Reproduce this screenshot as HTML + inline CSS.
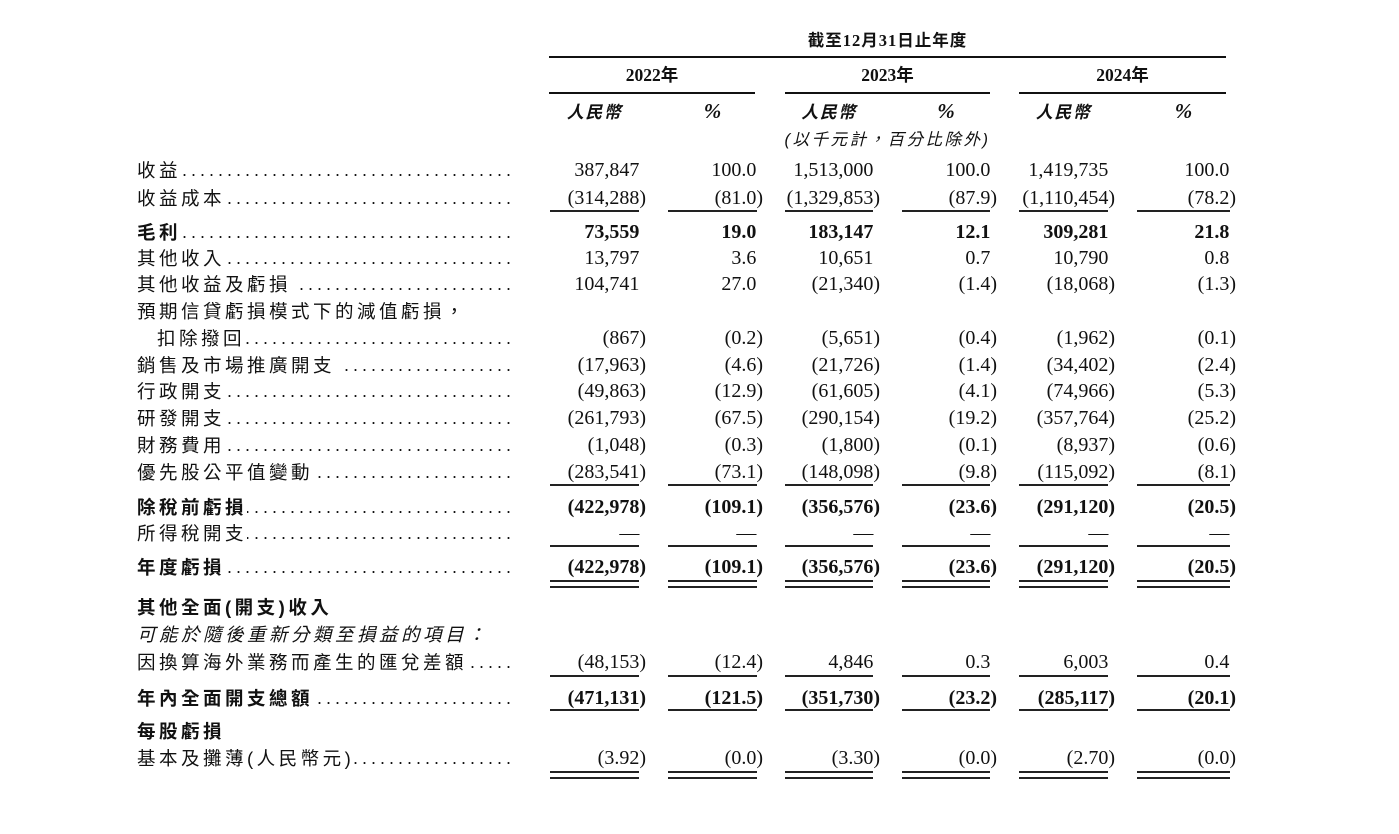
<!DOCTYPE html>
<html>
<head>
<meta charset="utf-8">
<style>
html,body{margin:0;padding:0;background:#fff;}
body{width:1399px;height:834px;position:relative;overflow:hidden;color:#111;}
.r{position:absolute;left:0;width:1399px;height:27px;line-height:27px;}
.n{position:absolute;top:0;font-family:"Liberation Serif","Noto Serif CJK SC",serif;font-size:20px;white-space:nowrap;}
.bd .n{font-weight:bold;}
.a{right:753px}.b{right:636px}.c{right:519px}.d{right:402px}.e{right:284px}.f{right:163px}
.p::after{content:")";visibility:hidden;}
.l{position:absolute;left:137px;top:0;width:378px;display:flex;font-family:"Liberation Sans","Noto Sans CJK TC",sans-serif;font-size:18.5px;letter-spacing:3.5px;color:#111;}
.l .t{flex:none;white-space:nowrap;}
.l .g{margin-right:4px;}
.l .dt{flex:1;overflow:hidden;white-space:nowrap;direction:rtl;letter-spacing:4px;font-size:18px;font-family:"Liberation Sans",sans-serif;}
.bd .l .t{font-weight:bold;}
.it .l .t{font-style:italic;}
.hl{position:absolute;background:#111;}
.ln{position:absolute;height:1.5px;background:#222;}
.h{position:absolute;text-align:center;white-space:nowrap;height:27px;line-height:27px;}
.hb{font-family:"Liberation Serif","Noto Sans CJK TC",serif;font-weight:bold;}
.pc{font-family:"Liberation Serif",serif;font-weight:bold;font-style:italic;font-size:21px;}
</style>
</head>
<body>

<!-- header -->
<div class="h hb" style="left:549px;width:677px;top:27px;font-size:16.5px;letter-spacing:1px;">截至12月31日止年度</div>
<div class="hl" style="left:549px;width:677px;top:56px;height:2px;"></div>

<div class="h hb" style="left:549px;width:206px;top:62px;font-size:17.5px;">2022年</div>
<div class="h hb" style="left:785px;width:205px;top:62px;font-size:17.5px;">2023年</div>
<div class="h hb" style="left:1019px;width:207px;top:62px;font-size:17.5px;">2024年</div>
<div class="hl" style="left:549px;width:206px;top:92px;height:2px;"></div>
<div class="hl" style="left:785px;width:205px;top:92px;height:2px;"></div>
<div class="hl" style="left:1019px;width:207px;top:92px;height:2px;"></div>

<div class="h hb" style="left:550px;width:89px;top:99px;font-size:17px;letter-spacing:1.5px;font-style:italic;">人民幣</div>
<div class="h pc" style="left:668px;width:89px;top:98px;">%</div>
<div class="h hb" style="left:785px;width:88px;top:99px;font-size:17px;letter-spacing:1.5px;font-style:italic;">人民幣</div>
<div class="h pc" style="left:902px;width:88px;top:98px;">%</div>
<div class="h hb" style="left:1019px;width:89px;top:99px;font-size:17px;letter-spacing:1.5px;font-style:italic;">人民幣</div>
<div class="h pc" style="left:1137px;width:93px;top:98px;">%</div>

<div class="h" style="left:549px;width:677px;top:127px;font-family:'Liberation Sans','Noto Sans CJK TC',sans-serif;font-size:16.5px;letter-spacing:2.5px;font-style:italic;">(以千元計，百分比除外)</div>

<!-- rows -->
<div class="r" style="top:156.5px"><div class="l"><span class="t">收益</span><span class="dt">..................................................</span></div>
<span class="n a p">387,847</span><span class="n b p">100.0</span><span class="n c p">1,513,000</span><span class="n d p">100.0</span><span class="n e p">1,419,735</span><span class="n f p">100.0</span></div>

<div class="r" style="top:184.5px"><div class="l"><span class="t">收益成本</span><span class="dt">..................................................</span></div>
<span class="n a">(314,288)</span><span class="n b">(81.0)</span><span class="n c">(1,329,853)</span><span class="n d">(87.9)</span><span class="n e">(1,110,454)</span><span class="n f">(78.2)</span></div>

<div class="ln" style="left:550px;width:89px;top:210px"></div>
<div class="ln" style="left:668px;width:89px;top:210px"></div>
<div class="ln" style="left:785px;width:88px;top:210px"></div>
<div class="ln" style="left:902px;width:88px;top:210px"></div>
<div class="ln" style="left:1019px;width:89px;top:210px"></div>
<div class="ln" style="left:1137px;width:93px;top:210px"></div>

<div class="r bd" style="top:218.5px"><div class="l"><span class="t">毛利</span><span class="dt">..................................................</span></div>
<span class="n a p">73,559</span><span class="n b p">19.0</span><span class="n c p">183,147</span><span class="n d p">12.1</span><span class="n e p">309,281</span><span class="n f p">21.8</span></div>

<div class="r" style="top:244.5px"><div class="l"><span class="t">其他收入</span><span class="dt">..................................................</span></div>
<span class="n a p">13,797</span><span class="n b p">3.6</span><span class="n c p">10,651</span><span class="n d p">0.7</span><span class="n e p">10,790</span><span class="n f p">0.8</span></div>

<div class="r" style="top:270.5px"><div class="l"><span class="t g">其他收益及虧損</span><span class="dt">..................................................</span></div>
<span class="n a p">104,741</span><span class="n b p">27.0</span><span class="n c">(21,340)</span><span class="n d">(1.4)</span><span class="n e">(18,068)</span><span class="n f">(1.3)</span></div>

<div class="r" style="top:297.5px"><div class="l"><span class="t">預期信貸虧損模式下的減值虧損，</span></div></div>

<div class="r" style="top:324.5px"><div class="l" style="left:157px;width:358px;"><span class="t">扣除撥回</span><span class="dt">..................................................</span></div>
<span class="n a">(867)</span><span class="n b">(0.2)</span><span class="n c">(5,651)</span><span class="n d">(0.4)</span><span class="n e">(1,962)</span><span class="n f">(0.1)</span></div>

<div class="r" style="top:351.5px"><div class="l"><span class="t g">銷售及市場推廣開支</span><span class="dt">..................................................</span></div>
<span class="n a">(17,963)</span><span class="n b">(4.6)</span><span class="n c">(21,726)</span><span class="n d">(1.4)</span><span class="n e">(34,402)</span><span class="n f">(2.4)</span></div>

<div class="r" style="top:377.5px"><div class="l"><span class="t">行政開支</span><span class="dt">..................................................</span></div>
<span class="n a">(49,863)</span><span class="n b">(12.9)</span><span class="n c">(61,605)</span><span class="n d">(4.1)</span><span class="n e">(74,966)</span><span class="n f">(5.3)</span></div>

<div class="r" style="top:404.5px"><div class="l"><span class="t">研發開支</span><span class="dt">..................................................</span></div>
<span class="n a">(261,793)</span><span class="n b">(67.5)</span><span class="n c">(290,154)</span><span class="n d">(19.2)</span><span class="n e">(357,764)</span><span class="n f">(25.2)</span></div>

<div class="r" style="top:431.5px"><div class="l"><span class="t">財務費用</span><span class="dt">..................................................</span></div>
<span class="n a">(1,048)</span><span class="n b">(0.3)</span><span class="n c">(1,800)</span><span class="n d">(0.1)</span><span class="n e">(8,937)</span><span class="n f">(0.6)</span></div>

<div class="r" style="top:458.5px"><div class="l"><span class="t g">優先股公平值變動</span><span class="dt">..................................................</span></div>
<span class="n a">(283,541)</span><span class="n b">(73.1)</span><span class="n c">(148,098)</span><span class="n d">(9.8)</span><span class="n e">(115,092)</span><span class="n f">(8.1)</span></div>

<div class="ln" style="left:550px;width:89px;top:484px"></div>
<div class="ln" style="left:668px;width:89px;top:484px"></div>
<div class="ln" style="left:785px;width:88px;top:484px"></div>
<div class="ln" style="left:902px;width:88px;top:484px"></div>
<div class="ln" style="left:1019px;width:89px;top:484px"></div>
<div class="ln" style="left:1137px;width:93px;top:484px"></div>

<div class="r bd" style="top:493.5px"><div class="l"><span class="t">除稅前虧損</span><span class="dt">..................................................</span></div>
<span class="n a">(422,978)</span><span class="n b">(109.1)</span><span class="n c">(356,576)</span><span class="n d">(23.6)</span><span class="n e">(291,120)</span><span class="n f">(20.5)</span></div>

<div class="r" style="top:519.5px"><div class="l"><span class="t">所得稅開支</span><span class="dt">..................................................</span></div>
<span class="n a p">—</span><span class="n b p">—</span><span class="n c p">—</span><span class="n d p">—</span><span class="n e p">—</span><span class="n f p">—</span></div>

<div class="ln" style="left:550px;width:89px;top:545px"></div>
<div class="ln" style="left:668px;width:89px;top:545px"></div>
<div class="ln" style="left:785px;width:88px;top:545px"></div>
<div class="ln" style="left:902px;width:88px;top:545px"></div>
<div class="ln" style="left:1019px;width:89px;top:545px"></div>
<div class="ln" style="left:1137px;width:93px;top:545px"></div>

<div class="r bd" style="top:553.5px"><div class="l"><span class="t">年度虧損</span><span class="dt">..................................................</span></div>
<span class="n a">(422,978)</span><span class="n b">(109.1)</span><span class="n c">(356,576)</span><span class="n d">(23.6)</span><span class="n e">(291,120)</span><span class="n f">(20.5)</span></div>

<div class="ln" style="left:550px;width:89px;top:580px"></div>
<div class="ln" style="left:668px;width:89px;top:580px"></div>
<div class="ln" style="left:785px;width:88px;top:580px"></div>
<div class="ln" style="left:902px;width:88px;top:580px"></div>
<div class="ln" style="left:1019px;width:89px;top:580px"></div>
<div class="ln" style="left:1137px;width:93px;top:580px"></div>
<div class="ln" style="left:550px;width:89px;top:586px"></div>
<div class="ln" style="left:668px;width:89px;top:586px"></div>
<div class="ln" style="left:785px;width:88px;top:586px"></div>
<div class="ln" style="left:902px;width:88px;top:586px"></div>
<div class="ln" style="left:1019px;width:89px;top:586px"></div>
<div class="ln" style="left:1137px;width:93px;top:586px"></div>

<div class="r bd" style="top:594px"><div class="l"><span class="t">其他全面(開支)收入</span></div></div>

<div class="r it" style="top:621px"><div class="l"><span class="t">可能於隨後重新分類至損益的項目：</span></div></div>

<div class="r" style="top:649px"><div class="l"><span class="t g">因換算海外業務而產生的匯兌差額</span><span class="dt">..................................................</span></div>
<span class="n a">(48,153)</span><span class="n b">(12.4)</span><span class="n c p">4,846</span><span class="n d p">0.3</span><span class="n e p">6,003</span><span class="n f p">0.4</span></div>

<div class="ln" style="left:550px;width:89px;top:675px"></div>
<div class="ln" style="left:668px;width:89px;top:675px"></div>
<div class="ln" style="left:785px;width:88px;top:675px"></div>
<div class="ln" style="left:902px;width:88px;top:675px"></div>
<div class="ln" style="left:1019px;width:89px;top:675px"></div>
<div class="ln" style="left:1137px;width:93px;top:675px"></div>

<div class="r bd" style="top:684.5px"><div class="l"><span class="t g">年內全面開支總額</span><span class="dt">..................................................</span></div>
<span class="n a">(471,131)</span><span class="n b">(121.5)</span><span class="n c">(351,730)</span><span class="n d">(23.2)</span><span class="n e">(285,117)</span><span class="n f">(20.1)</span></div>

<div class="ln" style="left:550px;width:89px;top:709px"></div>
<div class="ln" style="left:668px;width:89px;top:709px"></div>
<div class="ln" style="left:785px;width:88px;top:709px"></div>
<div class="ln" style="left:902px;width:88px;top:709px"></div>
<div class="ln" style="left:1019px;width:89px;top:709px"></div>
<div class="ln" style="left:1137px;width:93px;top:709px"></div>

<div class="r bd" style="top:718px"><div class="l"><span class="t">每股虧損</span></div></div>

<div class="r" style="top:744.5px"><div class="l"><span class="t">基本及攤薄(人民幣元)</span><span class="dt">..................................................</span></div>
<span class="n a">(3.92)</span><span class="n b">(0.0)</span><span class="n c">(3.30)</span><span class="n d">(0.0)</span><span class="n e">(2.70)</span><span class="n f">(0.0)</span></div>

<div class="ln" style="left:550px;width:89px;top:771px"></div>
<div class="ln" style="left:668px;width:89px;top:771px"></div>
<div class="ln" style="left:785px;width:88px;top:771px"></div>
<div class="ln" style="left:902px;width:88px;top:771px"></div>
<div class="ln" style="left:1019px;width:89px;top:771px"></div>
<div class="ln" style="left:1137px;width:93px;top:771px"></div>
<div class="ln" style="left:550px;width:89px;top:777px"></div>
<div class="ln" style="left:668px;width:89px;top:777px"></div>
<div class="ln" style="left:785px;width:88px;top:777px"></div>
<div class="ln" style="left:902px;width:88px;top:777px"></div>
<div class="ln" style="left:1019px;width:89px;top:777px"></div>
<div class="ln" style="left:1137px;width:93px;top:777px"></div>

</body>
</html>
